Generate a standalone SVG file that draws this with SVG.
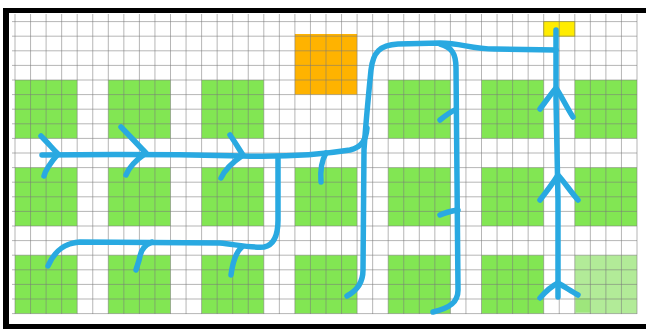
<svg xmlns="http://www.w3.org/2000/svg" width="646" height="329" viewBox="0 0 646 329">
<style>
.blk{fill:#82e653}
.grid{fill:none;stroke:#7a7a7a;stroke-opacity:0.55;stroke-width:1}
.path{fill:none;stroke:#29a9e1;stroke-width:5.5;stroke-linecap:round;stroke-linejoin:round}
.frame{fill:#000}
</style>
<rect x="0" y="0" width="646" height="329" fill="#fff"/>
<g id="frame">
<rect class="frame" x="3" y="8" width="643" height="5"/>
<rect class="frame" x="3" y="8" width="6" height="321"/>
<rect class="frame" x="3" y="324" width="643" height="5"/>
</g>
<g id="blocks">
<g id="r1c1"><rect class="blk" x="15" y="80" width="62.2" height="58.4"/></g>
<g id="r1c2"><rect class="blk" x="108.3" y="80" width="62.2" height="58.4"/></g>
<g id="r1c3"><rect class="blk" x="201.6" y="80" width="62.2" height="58.4"/></g>
<g id="r1c5"><rect class="blk" x="388.2" y="80" width="62.2" height="58.4"/></g>
<g id="r1c6"><rect class="blk" x="481.5" y="80" width="62.2" height="58.4"/></g>
<g id="r1c7"><rect class="blk" x="574.8" y="80" width="62.2" height="58.4"/></g>
<g id="r2c1"><rect class="blk" x="15" y="167.6" width="62.2" height="58.4"/></g>
<g id="r2c2"><rect class="blk" x="108.3" y="167.6" width="62.2" height="58.4"/></g>
<g id="r2c3"><rect class="blk" x="201.6" y="167.6" width="62.2" height="58.4"/></g>
<g id="r2c4"><rect class="blk" x="294.9" y="167.6" width="62.2" height="58.4"/></g>
<g id="r2c5"><rect class="blk" x="388.2" y="167.6" width="62.2" height="58.4"/></g>
<g id="r2c6"><rect class="blk" x="481.5" y="167.6" width="62.2" height="58.4"/></g>
<g id="r2c7"><rect class="blk" x="574.8" y="167.6" width="62.2" height="58.4"/></g>
<g id="r3c1"><rect class="blk" x="15" y="255.2" width="62.2" height="58.4"/></g>
<g id="r3c2"><rect class="blk" x="108.3" y="255.2" width="62.2" height="58.4"/></g>
<g id="r3c3"><rect class="blk" x="201.6" y="255.2" width="62.2" height="58.4"/></g>
<g id="r3c4"><rect class="blk" x="294.9" y="255.2" width="62.2" height="58.4"/></g>
<g id="r3c5"><rect class="blk" x="388.2" y="255.2" width="62.2" height="58.4"/></g>
<g id="r3c6"><rect class="blk" x="481.5" y="255.2" width="62.2" height="58.4"/></g>
<g id="r3c7"><rect x="574.8" y="255.2" width="62.2" height="58.4" fill="#b2eb98"/><rect x="576" y="298" width="14" height="14" fill="#9ee67c"/></g>
</g>
<g id="orange"><rect x="294.9" y="34" width="62.2" height="60.6" fill="#ffb300"/></g>
<g id="yellow"><rect x="543.7" y="21.6" width="31.1" height="14.6" fill="#ffec00" stroke="#d8c800" stroke-width="0.8"/></g>
<path class="grid" d="M15 14V314M30.55 14V314M46.1 14V314M61.65 14V314M77.2 14V314M92.75 14V314M108.3 14V314M123.85 14V314M139.4 14V314M154.95 14V314M170.5 14V314M186.05 14V314M201.6 14V314M217.15 14V314M232.7 14V314M248.25 14V314M263.8 14V314M279.35 14V314M294.9 14V314M310.45 14V314M326 14V314M341.55 14V314M357.1 14V314M372.65 14V314M388.2 14V314M403.75 14V314M419.3 14V314M434.85 14V314M450.4 14V314M465.95 14V314M481.5 14V314M497.05 14V314M512.6 14V314M528.15 14V314M543.7 14V314M559.25 14V314M574.8 14V314M590.35 14V314M605.9 14V314M621.45 14V314M637 14V314M12 21.6H637M12 36.2H637M12 50.8H637M12 65.4H637M12 80H637M12 94.6H637M12 109.2H637M12 123.8H637M12 138.4H637M12 153H637M12 167.6H637M12 182.2H637M12 196.8H637M12 211.4H637M12 226H637M12 240.6H637M12 255.2H637M12 269.8H637M12 284.4H637M12 299H637M12 313.6H637"/>
<g id="connectors">
<path class="path" d="M42 155 C120 154 200 155 243 156 C285 157 325 154 350 150 C362 147 366 140 367 128"/>
<path class="path" d="M41 136 C48 143 53 149 58 154 C52 161 46 168 44 176"/>
<path class="path" d="M121 127 C130 136 138 145 146 153 C136 160 129 167 126 175"/>
<path class="path" d="M230 135 C235 142 239 149 243 155 C233 162 225 169 221 178"/>
<path class="path" d="M326 153 C322 160 320 170 321 182"/>
<path class="path" d="M347 296 C358 290 363 282 363 270 L364 150 C366 120 369 90 371 70 C373 52 380 45 398 44 L440 43 C462 43 470 49 495 49 L556 50"/>
<path class="path" d="M48 266 C55 250 65 243 80 242 L220 243 C238 245 252 248 264 247 C274 245 278 235 278 220 L278 157"/>
<path class="path" d="M152 242 C145 245 141 250 140 256 C139 262 137 266 136 270"/>
<path class="path" d="M242 247 C236 252 233 260 231 275"/>
<path class="path" d="M433 312 C450 308 458 302 458 290 L456 68 C456 54 452 47 440 44"/>
<path class="path" d="M455 110 C450 112 445 116 440 120"/>
<path class="path" d="M458 210 C452 211 446 212 440 215"/>
<path class="path" d="M556 30 L556 100 L558 200 L558 297"/>
<path class="path" d="M540 109 C546 101 551 94 556 88 C562 97 567 108 573 117"/>
<path class="path" d="M540 200 C547 191 553 183 558 175 C565 183 571 192 578 200"/>
<path class="path" d="M540 298 C546 291 552 286 558 283 C565 287 571 291 578 295"/>
</g>
</svg>
